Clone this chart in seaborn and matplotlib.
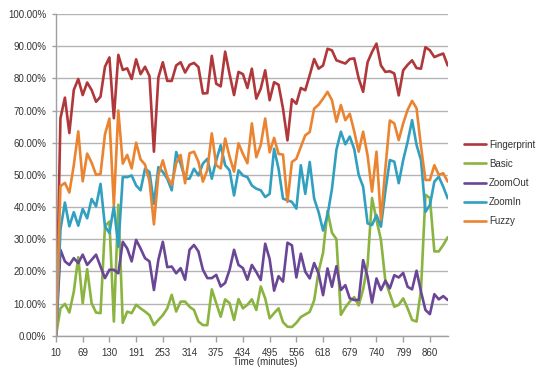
import matplotlib
matplotlib.use("Agg")
import matplotlib.pyplot as plt
import seaborn as sns
import pandas as pd
from matplotlib.ticker import FuncFormatter, MultipleLocator

# ---- data (percent) ----
time_labels = ["10", "69", "130", "191", "253", "314", "375", "434", "495",
               "556", "618", "679", "740", "799", "860"]

fingerprint = [0, 67.6, 74, 63, 76.4, 79.8, 74.8, 78.7, 76.4, 72.7, 74.3, 83.6, 86.5, 67.6, 87.3,
               82.6, 83.1, 79.8, 85.9, 81.3, 83.6, 80.7, 57.2, 80.3, 85, 79.2, 79.2, 84, 85, 81.8,
               84.2, 84.8, 83.5, 75.3, 75.4, 87, 78.3, 77.5, 88.3, 81.3, 74.8, 82, 81.3, 77, 83,
               73.7, 76.8, 82.5, 73.2, 78.8, 78, 70.6, 60.7, 73.5, 72.1, 77, 76.3, 81, 86, 83,
               84, 89.2, 88.7, 85.6, 85.1, 84.6, 86, 86.2, 80, 75.8, 85, 88.2, 90.8, 84, 82,
               82.2, 81.5, 74.7, 82.5, 84.2, 85.6, 83.2, 83, 89.7, 88.7, 86.6, 87.2, 87.7, 84]

basic = [0, 8.5, 9.9, 7.2, 13.7, 24.4, 10.1, 20.7, 10.1, 7.2, 7, 34, 35.5, 4.4, 40.7,
         4, 7.5, 7, 9.6, 8.5, 7.5, 6.4, 3.3, 4.9, 6.4, 8.5, 12.7, 7.5, 10.6, 10.6,
         9, 8, 4.4, 3.3, 3.3, 14.4, 10.1, 5.9, 11.3, 10.1, 4.9, 11.4, 8.5, 9.6, 11.3,
         8, 15.3, 11.6, 5.4, 7, 8.5, 4.2, 2.8, 2.7, 4, 5.8, 6.6, 7.4, 11, 20,
         25.8, 38.8, 32, 30, 6.5, 8.8, 10.6, 12, 9.4, 14.4, 22, 42.8, 36, 29.8, 17,
         13, 9, 9.6, 11.6, 8.5, 4.9, 4.4, 14.2, 43.8, 42.8, 26.2, 26.2, 28.2, 30.6]

zoom_out = [0, 26.7, 23.1, 22, 24.1, 22.6, 25.2, 22, 23.6, 25.2, 21.5, 17.9, 20.5, 20.5, 19.4,
            29.2, 27.1, 23.1, 29.8, 27.1, 24.1, 23.1, 14.2, 23.6, 29.2, 21.3, 21.5, 19.4, 21, 17.4,
            26.7, 28.2, 26.2, 20.5, 17.9, 17.9, 18.9, 15.3, 16.4, 20.5, 26.7, 22, 21, 17.4, 22,
            19.8, 17.3, 28.6, 23.8, 14, 18.5, 16.8, 28.9, 28.1, 18.1, 25.5, 19.9, 17.8, 22.6, 19.3,
            12.6, 20.9, 15.2, 21.6, 14.2, 15.7, 11.6, 11.1, 11.1, 23.5, 18.3, 10.3, 17.8, 14.2, 17.1,
            14.7, 18.8, 18.1, 19.5, 15.2, 14.4, 20.2, 13.7, 8, 6.7, 12.9, 11.3, 12.3, 11.1]

zoom_in = [0, 33, 41.4, 34, 38.4, 34.2, 39.4, 36.5, 42.5, 40.2, 47.2, 34, 31.9, 40.2, 27.7,
           49.3, 49.3, 49.8, 46.7, 45.2, 51.9, 50.9, 41, 52.4, 50.9, 48.8, 45.2, 57.1, 53.5, 48.8,
           48.8, 51.9, 49.8, 53.5, 55, 48.8, 54.5, 59.2, 53, 51.4, 43.6, 51.4, 49.8, 49.3, 46.7,
           45.7, 45.2, 43.1, 44.1, 58.1, 51.9, 42.6, 42.1, 41.6, 39.5, 53, 44.1, 54, 42.6, 38.4,
           32.7, 37.4, 45.7, 57.8, 63.4, 59.5, 61.9, 58, 50, 46.3, 34.9, 34.4, 37.5, 33.9, 45,
           54.6, 54.1, 47.4, 54.6, 60.3, 67, 59.3, 54.6, 38.5, 40.6, 47.9, 49.4, 46.3, 42.7]

fuzzy = [0, 46.5, 47.5, 44.5, 53, 63.5, 48, 56.6, 53.8, 50, 50.3, 62.6, 67.5, 40.5, 70,
         53.5, 56.2, 52, 60, 54.8, 53.2, 48, 34.6, 50, 54.5, 49.4, 46.8, 53.6, 56.2, 47.4,
         56.7, 57.2, 54.1, 47.9, 51.5, 62.9, 53, 52, 61.3, 55.6, 51, 59.8, 56.5, 53.6, 66,
         55.5, 59.3, 67.5, 57, 61.5, 56.5, 56.3, 41.6, 54, 55, 58.7, 62.3, 63.3, 70.6, 71.8,
         73.7, 75.8, 73.2, 66.5, 71.7, 67, 69, 63.5, 57.2, 63.4, 56, 44.8, 57.2, 36, 52,
         66.9, 66, 60.8, 66, 70.2, 73, 70.7, 58.8, 48.4, 48.4, 53, 50, 50.5, 47.9]

series_names = ["Fingerprint", "Basic", "ZoomOut", "ZoomIn", "Fuzzy"]
series_values = [fingerprint, basic, zoom_out, zoom_in, fuzzy]
series_colors = ["#B0373A", "#8AB43F", "#6A4696", "#31A0C0", "#EB8430"]

# ---- figure ----
sns.set_style("white")
plt.rcParams["font.family"] = ["Liberation Sans", "DejaVu Sans"]

fig = plt.figure(figsize=(5.5, 3.73), dpi=100)
ax = fig.add_axes([56 / 550, 1 - 335.7 / 373, (447.7 - 56) / 550, (335.7 - 14) / 373])

n = len(fingerprint)
for name, vals, col in zip(series_names, series_values, series_colors):
    df = pd.DataFrame({"idx": range(n), "value": vals})
    sns.lineplot(data=df, x="idx", y="value", color=col, linewidth=1.9,
                 label=name, ax=ax, sort=False)

ax.set_xlim(0, n - 1)
ax.set_ylim(0, 100)
ax.yaxis.set_major_locator(MultipleLocator(10))
ax.yaxis.set_major_formatter(FuncFormatter(lambda v, p: f"{v:.2f}%"))
ax.set_xticks(range(0, n, 6))
ax.set_xticklabels(time_labels)

ax.grid(axis="y", color="#B4B4B4", linewidth=1.0)
ax.set_axisbelow(True)
for s in ["top", "right"]:
    ax.spines[s].set_visible(False)
for s in ["left", "bottom"]:
    ax.spines[s].set_color("#A0A0A0")
    ax.spines[s].set_linewidth(1.0)

ax.tick_params(axis="y", length=3, width=1, color="#A0A0A0", pad=4,
               labelsize=7, labelcolor="#333333", left=True)
ax.tick_params(axis="x", length=4, width=1, color="#A0A0A0", pad=5,
               labelsize=7, labelcolor="#333333", bottom=True)

ax.set_xlabel("")
ax.set_ylabel("")
fig.text(265 / 550, 1 - 362 / 373, "Time (minutes)", ha="center", va="center",
         fontsize=7, color="#333333")

leg = ax.legend(loc="center left", bbox_to_anchor=(464 / 550, 1 - 183 / 373),
                bbox_transform=fig.transFigure, frameon=False, fontsize=7,
                handlelength=2.3, handletextpad=0.25, labelspacing=0.95,
                borderpad=0, borderaxespad=0)
for t in leg.get_texts():
    t.set_color("#333333")

fig.savefig("out.png", dpi=100)
